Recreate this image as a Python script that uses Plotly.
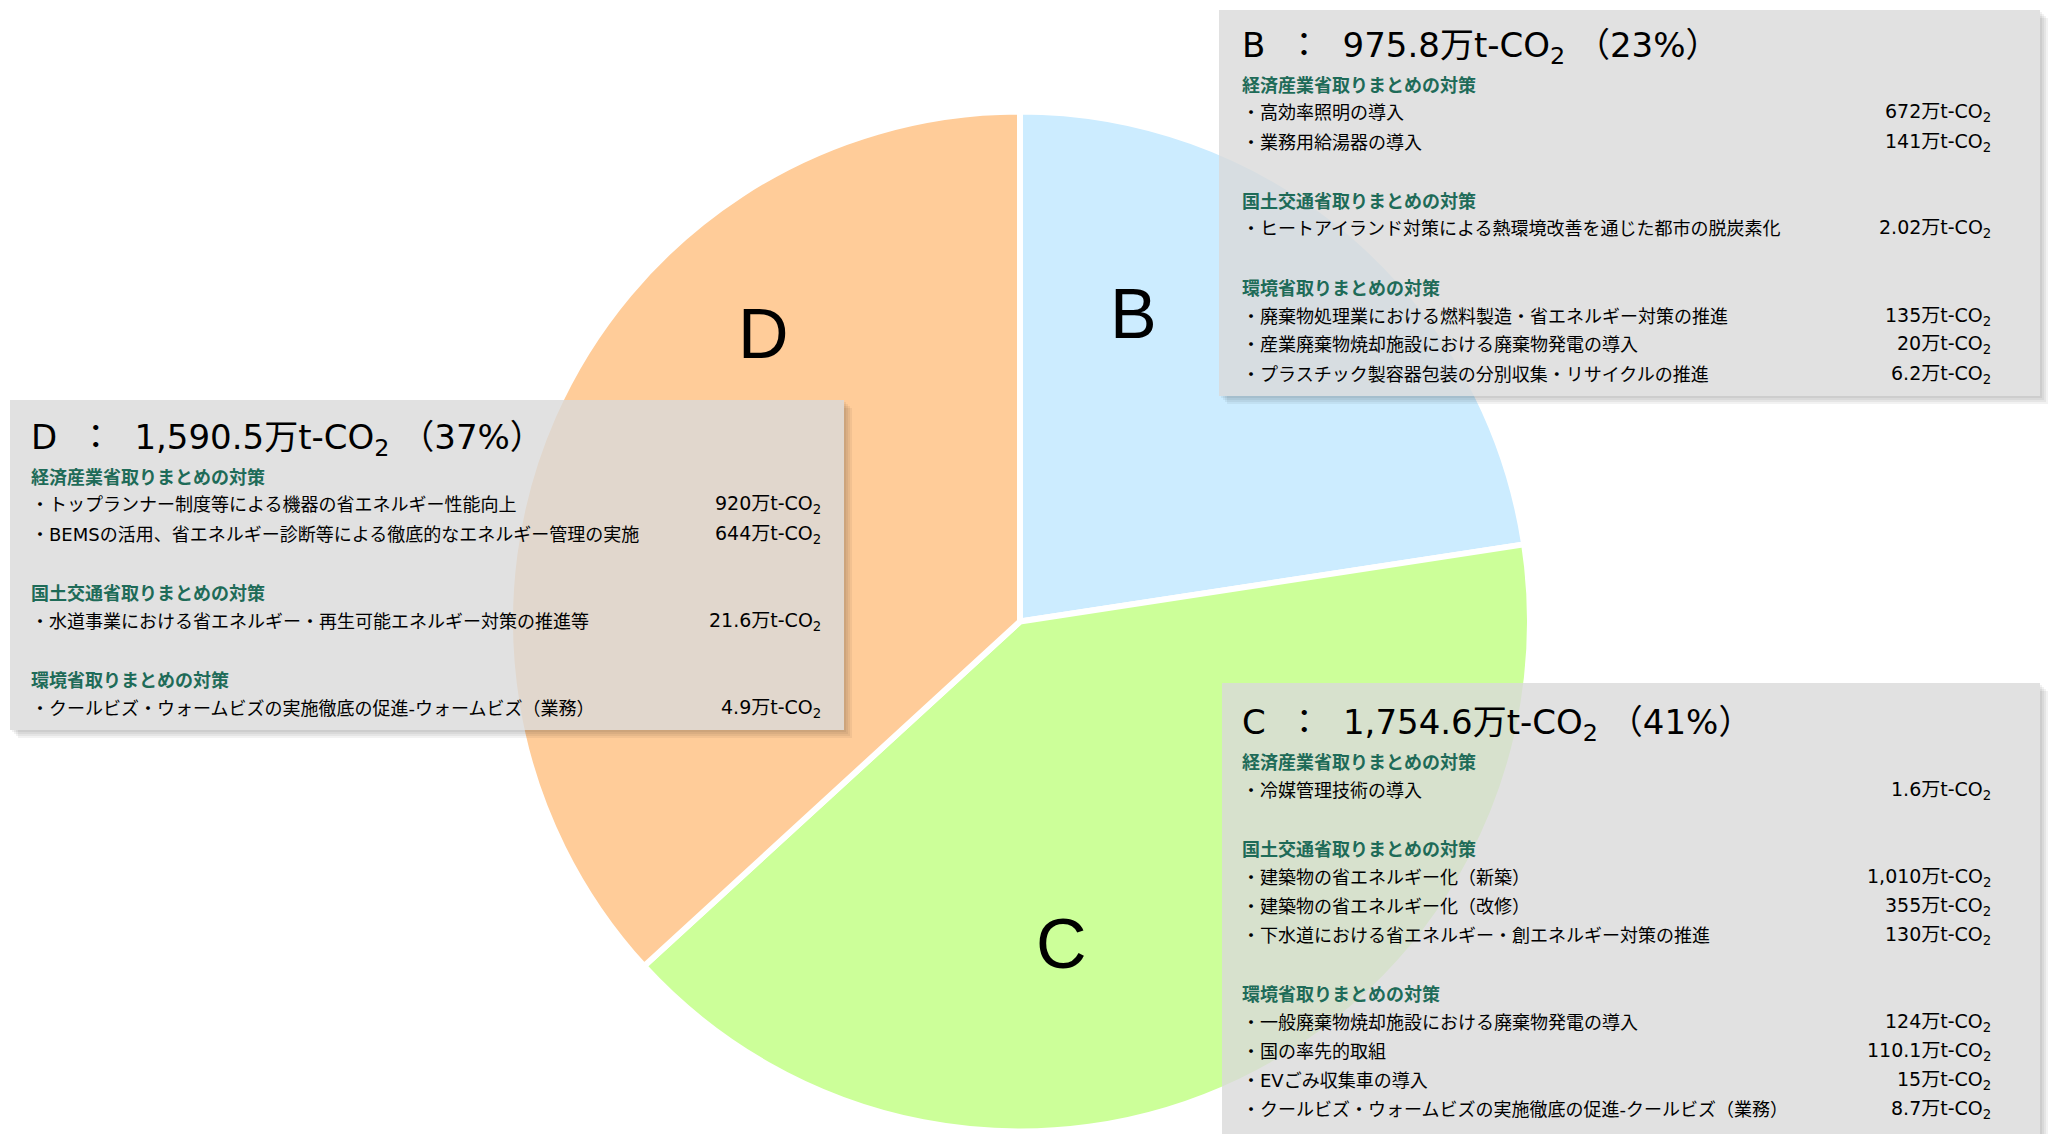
import plotly.graph_objects as go

W, H = 2051, 1134

# ---------------- data ----------------
categories = ["B", "C", "D"]
totals = [975.8, 1754.6, 1590.5]
total_labels = ["975.8", "1,754.6", "1,590.5"]
percent_labels = ["23%", "41%", "37%"]
slice_colors = ["#CCECFF", "#CCFF99", "#FFCC99"]

ministries = ["経済産業省取りまとめの対策", "国土交通省取りまとめの対策", "環境省取りまとめの対策"]

b_items = [
    ["・高効率照明の導入", "・業務用給湯器の導入"],
    ["・ヒートアイランド対策による熱環境改善を通じた都市の脱炭素化"],
    ["・廃棄物処理業における燃料製造・省エネルギー対策の推進",
     "・産業廃棄物焼却施設における廃棄物発電の導入",
     "・プラスチック製容器包装の分別収集・リサイクルの推進"],
]
b_values = [["672", "141"], ["2.02"], ["135", "20", "6.2"]]

c_items = [
    ["・冷媒管理技術の導入"],
    ["・建築物の省エネルギー化（新築）", "・建築物の省エネルギー化（改修）",
     "・下水道における省エネルギー・創エネルギー対策の推進"],
    ["・一般廃棄物焼却施設における廃棄物発電の導入", "・国の率先的取組",
     "・EVごみ収集車の導入", "・クールビズ・ウォームビズの実施徹底の促進-クールビズ（業務）"],
]
c_values = [["1.6"], ["1,010", "355", "130"], ["124", "110.1", "15", "8.7"]]

d_items = [
    ["・トップランナー制度等による機器の省エネルギー性能向上",
     "・BEMSの活用、省エネルギー診断等による徹底的なエネルギー管理の実施"],
    ["・水道事業における省エネルギー・再生可能エネルギー対策の推進等"],
    ["・クールビズ・ウォームビズの実施徹底の促進-ウォームビズ（業務）"],
]
d_values = [["920", "644"], ["21.6"], ["4.9"]]

# ---------------- layout helpers ----------------
def px(x):
    return x / W

def py(y):
    return 1 - y / H

CJK = "Noto Sans CJK JP"
MIX = "DejaVu Sans, Noto Sans CJK JP"
TEAL = "#1E6B58"
NB = "\u00a0"

fig = go.Figure()
fig.add_trace(go.Pie(
    labels=categories, values=totals, sort=False, direction="clockwise", rotation=0,
    marker=dict(colors=slice_colors, line=dict(color="white", width=6)),
    textinfo="none", hoverinfo="label+value+percent", showlegend=False,
    domain=dict(x=[px(510), px(1530)], y=[py(1132), py(111)]),
))

shapes = []
annotations = []

# big slice letters
letter_pos = {"B": (1133, 314), "C": (1061, 944), "D": (763, 334)}
for cat in categories:
    x, y = letter_pos[cat]
    annotations.append(dict(x=px(x), y=py(y), xref="paper", yref="paper", text=cat,
                            showarrow=False, xanchor="center", yanchor="middle",
                            font=dict(family="Liberation Sans, Arial", size=70, color="black")))

def add_box(left, top, right, bottom, shadow_bottom=True):
    for k in (2, 4, 6, 8):
        shapes.append(dict(type="rect", xref="paper", yref="paper", layer="above",
                           x0=px(right), x1=px(right + k), y0=py(top + k), y1=py(bottom + k),
                           line=dict(width=0), fillcolor="rgba(0,0,0,0.05)"))
        if shadow_bottom:
            shapes.append(dict(type="rect", xref="paper", yref="paper", layer="above",
                               x0=px(left + k), x1=px(right), y0=py(bottom), y1=py(bottom + k),
                               line=dict(width=0), fillcolor="rgba(0,0,0,0.05)"))
    shapes.append(dict(type="rect", xref="paper", yref="paper", layer="above",
                       x0=px(left), x1=px(right), y0=py(top), y1=py(bottom),
                       line=dict(width=0), fillcolor="rgba(217,217,217,0.8)"))

def add_text_block(idx, left_x, right_x, header_y, items, values, step=29):
    cat = categories[idx]
    header = (f"{cat}{NB}{NB}：{NB}{NB}{total_labels[idx]}万t-CO<sub>2</sub>{NB}"
              f"（{percent_labels[idx]}）")
    annotations.append(dict(x=px(left_x), y=py(header_y + 3), xref="paper", yref="paper",
                            text=header, showarrow=False, xanchor="left", yanchor="middle",
                            font=dict(family=MIX, size=34, color="black")))
    y = header_y + 40
    for g, (grp_items, grp_vals) in enumerate(zip(items, values)):
        annotations.append(dict(x=px(left_x), y=py(y), xref="paper", yref="paper",
                                text=f"<b>{ministries[g]}</b>", showarrow=False,
                                xanchor="left", yanchor="middle",
                                font=dict(family=CJK, size=18, color=TEAL)))
        y += step
        for it, val in zip(grp_items, grp_vals):
            annotations.append(dict(x=px(left_x), y=py(y), xref="paper", yref="paper",
                                    text=it, showarrow=False, xanchor="left", yanchor="middle",
                                    font=dict(family=MIX, size=18, color="black")))
            annotations.append(dict(x=px(right_x), y=py(y), xref="paper", yref="paper",
                                    text=f"{val}万t-CO<sub>2</sub>", showarrow=False,
                                    xanchor="right", yanchor="middle",
                                    font=dict(family=MIX, size=19, color="black")))
            y += step
        y += step

# B box
add_box(1219, 10, 2040, 396)
add_text_block(0, 1240, 1993, 44, b_items, b_values)
# D box
add_box(10, 400, 844, 730)
add_text_block(2, 29, 823, 436, d_items, d_values)
# C box
add_box(1222, 683, 2040, 1140, shadow_bottom=False)
add_text_block(1, 1240, 1993, 721, c_items, c_values)

fig.update_layout(
    width=W, height=H, margin=dict(l=0, r=0, t=0, b=0),
    paper_bgcolor="white", plot_bgcolor="white",
    shapes=shapes, annotations=annotations, showlegend=False,
)

fig.write_html("out.html", config={"displayModeBar": False},
               post_script="document.body.style.margin='0';")
